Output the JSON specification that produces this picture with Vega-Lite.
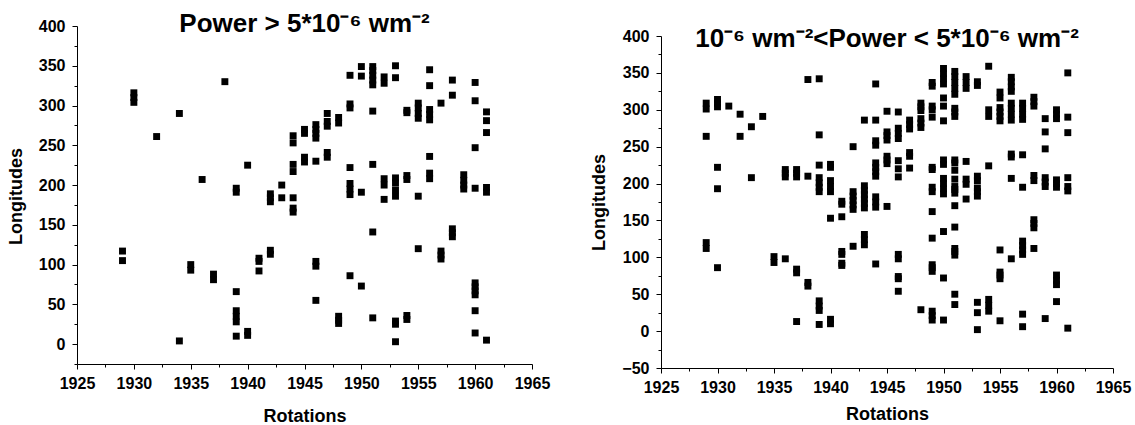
{
"$schema": "https://vega.github.io/schema/vega-lite/v6.json",
"padding": {"left": 7, "top": 11, "right": 5, "bottom": 5},
"bounds": "flush",
"spacing": 129,
"config": {
  "view": {"stroke": null},
  "font": "Liberation Sans",
  "axis": {"domainColor": "#000", "tickColor": "#000", "labelColor": "#000", "titleColor": "#000", "labelFont": "Liberation Sans", "labelFontWeight": "bold", "labelFontSize": 16, "titleFont": "Liberation Sans", "titleFontWeight": "bold", "titleFontSize": 18, "grid": false, "domainWidth": 1, "tickWidth": 1, "labelOverlap": false, "labelFlush": false},
  "title": {"font": "Liberation Sans", "fontWeight": "bold", "fontSize": 26, "color": "#000", "frame": "group", "baseline": "alphabetic", "anchor": "middle"}
},
"datasets": {
"a": [
{"r":1929,"lon":105},{"r":1929,"lon":117},
{"r":1930,"lon":304},{"r":1930,"lon":310},{"r":1930,"lon":316},
{"r":1932,"lon":261},
{"r":1934,"lon":290},{"r":1934,"lon":4},
{"r":1935,"lon":93},{"r":1935,"lon":100},
{"r":1936,"lon":207},
{"r":1937,"lon":81},{"r":1937,"lon":88},
{"r":1938,"lon":330},
{"r":1939,"lon":191},{"r":1939,"lon":196},{"r":1939,"lon":66},{"r":1939,"lon":28},{"r":1939,"lon":35},{"r":1939,"lon":42},{"r":1939,"lon":10},
{"r":1940,"lon":225},{"r":1940,"lon":11},{"r":1940,"lon":16},
{"r":1941,"lon":92},{"r":1941,"lon":104},{"r":1941,"lon":108},
{"r":1942,"lon":179},{"r":1942,"lon":184},{"r":1942,"lon":189},{"r":1942,"lon":113},{"r":1942,"lon":118},
{"r":1943,"lon":200},{"r":1943,"lon":184},
{"r":1944,"lon":253},{"r":1944,"lon":262},{"r":1944,"lon":217},{"r":1944,"lon":226},{"r":1944,"lon":184},{"r":1944,"lon":166},{"r":1944,"lon":171},
{"r":1945,"lon":265},{"r":1945,"lon":270},{"r":1945,"lon":229},{"r":1945,"lon":235},
{"r":1946,"lon":259},{"r":1946,"lon":265},{"r":1946,"lon":270},{"r":1946,"lon":276},{"r":1946,"lon":230},{"r":1946,"lon":98},{"r":1946,"lon":104},{"r":1946,"lon":55},
{"r":1947,"lon":290},{"r":1947,"lon":274},{"r":1947,"lon":280},{"r":1947,"lon":235},{"r":1947,"lon":241},
{"r":1948,"lon":278},{"r":1948,"lon":285},{"r":1948,"lon":26},{"r":1948,"lon":30},{"r":1948,"lon":35},
{"r":1949,"lon":338},{"r":1949,"lon":297},{"r":1949,"lon":302},{"r":1949,"lon":222},{"r":1949,"lon":188},{"r":1949,"lon":195},{"r":1949,"lon":202},{"r":1949,"lon":86},
{"r":1950,"lon":349},{"r":1950,"lon":337},{"r":1950,"lon":191},{"r":1950,"lon":73},
{"r":1951,"lon":326},{"r":1951,"lon":332},{"r":1951,"lon":338},{"r":1951,"lon":344},{"r":1951,"lon":349},{"r":1951,"lon":293},{"r":1951,"lon":226},{"r":1951,"lon":141},{"r":1951,"lon":33},
{"r":1952,"lon":328},{"r":1952,"lon":336},{"r":1952,"lon":200},{"r":1952,"lon":208},{"r":1952,"lon":182},
{"r":1953,"lon":350},{"r":1953,"lon":335},{"r":1953,"lon":186},{"r":1953,"lon":194},{"r":1953,"lon":203},{"r":1953,"lon":209},{"r":1953,"lon":25},{"r":1953,"lon":29},{"r":1953,"lon":3},
{"r":1954,"lon":291},{"r":1954,"lon":294},{"r":1954,"lon":207},{"r":1954,"lon":212},{"r":1954,"lon":31},{"r":1954,"lon":36},
{"r":1955,"lon":284},{"r":1955,"lon":290},{"r":1955,"lon":297},{"r":1955,"lon":303},{"r":1955,"lon":186},{"r":1955,"lon":120},
{"r":1956,"lon":345},{"r":1956,"lon":325},{"r":1956,"lon":282},{"r":1956,"lon":289},{"r":1956,"lon":295},{"r":1956,"lon":236},{"r":1956,"lon":208},{"r":1956,"lon":215},
{"r":1957,"lon":303},{"r":1957,"lon":107},{"r":1957,"lon":112},{"r":1957,"lon":117},
{"r":1958,"lon":332},{"r":1958,"lon":313},{"r":1958,"lon":135},{"r":1958,"lon":140},{"r":1958,"lon":145},
{"r":1959,"lon":195},{"r":1959,"lon":200},{"r":1959,"lon":206},{"r":1959,"lon":213},
{"r":1960,"lon":329},{"r":1960,"lon":306},{"r":1960,"lon":247},{"r":1960,"lon":196},{"r":1960,"lon":62},{"r":1960,"lon":67},{"r":1960,"lon":72},{"r":1960,"lon":77},{"r":1960,"lon":42},{"r":1960,"lon":14},
{"r":1961,"lon":292},{"r":1961,"lon":281},{"r":1961,"lon":266},{"r":1961,"lon":191},{"r":1961,"lon":197},{"r":1961,"lon":5}
],
"b": [
{"r":1929,"lon":301},{"r":1929,"lon":309},{"r":1929,"lon":264},{"r":1929,"lon":112},{"r":1929,"lon":120},
{"r":1930,"lon":304},{"r":1930,"lon":309},{"r":1930,"lon":314},{"r":1930,"lon":222},{"r":1930,"lon":193},{"r":1930,"lon":86},
{"r":1931,"lon":305},
{"r":1932,"lon":294},{"r":1932,"lon":264},
{"r":1933,"lon":277},{"r":1933,"lon":208},
{"r":1934,"lon":291},
{"r":1935,"lon":93},{"r":1935,"lon":101},
{"r":1936,"lon":209},{"r":1936,"lon":214},{"r":1936,"lon":219},{"r":1936,"lon":98},
{"r":1937,"lon":209},{"r":1937,"lon":214},{"r":1937,"lon":219},{"r":1937,"lon":79},{"r":1937,"lon":84},{"r":1937,"lon":13},
{"r":1938,"lon":341},{"r":1938,"lon":210},{"r":1938,"lon":61},{"r":1938,"lon":66},
{"r":1939,"lon":342},{"r":1939,"lon":266},{"r":1939,"lon":225},{"r":1939,"lon":189},{"r":1939,"lon":195},{"r":1939,"lon":201},{"r":1939,"lon":208},{"r":1939,"lon":28},{"r":1939,"lon":34},{"r":1939,"lon":41},{"r":1939,"lon":9},
{"r":1940,"lon":222},{"r":1940,"lon":226},{"r":1940,"lon":189},{"r":1940,"lon":196},{"r":1940,"lon":204},{"r":1940,"lon":153},{"r":1940,"lon":10},{"r":1940,"lon":16},
{"r":1941,"lon":172},{"r":1941,"lon":176},{"r":1941,"lon":155},{"r":1941,"lon":104},{"r":1941,"lon":108},{"r":1941,"lon":89},{"r":1941,"lon":92},
{"r":1942,"lon":250},{"r":1942,"lon":165},{"r":1942,"lon":171},{"r":1942,"lon":177},{"r":1942,"lon":183},{"r":1942,"lon":189},{"r":1942,"lon":115},
{"r":1943,"lon":286},{"r":1943,"lon":167},{"r":1943,"lon":173},{"r":1943,"lon":179},{"r":1943,"lon":185},{"r":1943,"lon":191},{"r":1943,"lon":197},{"r":1943,"lon":117},{"r":1943,"lon":124},{"r":1943,"lon":131},
{"r":1944,"lon":335},{"r":1944,"lon":286},{"r":1944,"lon":252},{"r":1944,"lon":258},{"r":1944,"lon":210},{"r":1944,"lon":216},{"r":1944,"lon":222},{"r":1944,"lon":228},{"r":1944,"lon":168},{"r":1944,"lon":175},{"r":1944,"lon":182},{"r":1944,"lon":91},
{"r":1945,"lon":298},{"r":1945,"lon":259},{"r":1945,"lon":265},{"r":1945,"lon":270},{"r":1945,"lon":227},{"r":1945,"lon":232},{"r":1945,"lon":237},{"r":1945,"lon":169},
{"r":1946,"lon":297},{"r":1946,"lon":261},{"r":1946,"lon":268},{"r":1946,"lon":275},{"r":1946,"lon":231},{"r":1946,"lon":220},{"r":1946,"lon":209},{"r":1946,"lon":98},{"r":1946,"lon":104},{"r":1946,"lon":71},{"r":1946,"lon":74},{"r":1946,"lon":54},
{"r":1947,"lon":274},{"r":1947,"lon":280},{"r":1947,"lon":286},{"r":1947,"lon":237},{"r":1947,"lon":242},{"r":1947,"lon":221},
{"r":1948,"lon":299},{"r":1948,"lon":304},{"r":1948,"lon":309},{"r":1948,"lon":276},{"r":1948,"lon":282},{"r":1948,"lon":288},{"r":1948,"lon":29},
{"r":1949,"lon":332},{"r":1949,"lon":337},{"r":1949,"lon":300},{"r":1949,"lon":305},{"r":1949,"lon":290},{"r":1949,"lon":219},{"r":1949,"lon":222},{"r":1949,"lon":189},{"r":1949,"lon":195},{"r":1949,"lon":162},{"r":1949,"lon":126},{"r":1949,"lon":81},{"r":1949,"lon":86},{"r":1949,"lon":90},{"r":1949,"lon":15},{"r":1949,"lon":21},{"r":1949,"lon":27},
{"r":1950,"lon":335},{"r":1950,"lon":342},{"r":1950,"lon":349},{"r":1950,"lon":356},{"r":1950,"lon":316},{"r":1950,"lon":305},{"r":1950,"lon":285},{"r":1950,"lon":226},{"r":1950,"lon":232},{"r":1950,"lon":186},{"r":1950,"lon":193},{"r":1950,"lon":200},{"r":1950,"lon":207},{"r":1950,"lon":135},{"r":1950,"lon":72},{"r":1950,"lon":15},
{"r":1951,"lon":321},{"r":1951,"lon":329},{"r":1951,"lon":337},{"r":1951,"lon":345},{"r":1951,"lon":352},{"r":1951,"lon":291},{"r":1951,"lon":297},{"r":1951,"lon":302},{"r":1951,"lon":228},{"r":1951,"lon":232},{"r":1951,"lon":218},{"r":1951,"lon":206},{"r":1951,"lon":187},{"r":1951,"lon":192},{"r":1951,"lon":196},{"r":1951,"lon":170},{"r":1951,"lon":141},{"r":1951,"lon":103},{"r":1951,"lon":108},{"r":1951,"lon":112},{"r":1951,"lon":50},{"r":1951,"lon":36},
{"r":1952,"lon":329},{"r":1952,"lon":337},{"r":1952,"lon":345},{"r":1952,"lon":230},{"r":1952,"lon":199},{"r":1952,"lon":206},{"r":1952,"lon":179},
{"r":1953,"lon":333},{"r":1953,"lon":338},{"r":1953,"lon":204},{"r":1953,"lon":210},{"r":1953,"lon":183},{"r":1953,"lon":189},{"r":1953,"lon":194},{"r":1953,"lon":39},{"r":1953,"lon":25},{"r":1953,"lon":2},
{"r":1954,"lon":359},{"r":1954,"lon":291},{"r":1954,"lon":300},{"r":1954,"lon":224},{"r":1954,"lon":27},{"r":1954,"lon":35},{"r":1954,"lon":43},
{"r":1955,"lon":316},{"r":1955,"lon":324},{"r":1955,"lon":285},{"r":1955,"lon":291},{"r":1955,"lon":297},{"r":1955,"lon":303},{"r":1955,"lon":110},{"r":1955,"lon":71},{"r":1955,"lon":76},{"r":1955,"lon":80},{"r":1955,"lon":14},
{"r":1956,"lon":325},{"r":1956,"lon":331},{"r":1956,"lon":338},{"r":1956,"lon":344},{"r":1956,"lon":286},{"r":1956,"lon":294},{"r":1956,"lon":302},{"r":1956,"lon":309},{"r":1956,"lon":236},{"r":1956,"lon":240},{"r":1956,"lon":207},{"r":1956,"lon":98},
{"r":1957,"lon":287},{"r":1957,"lon":294},{"r":1957,"lon":302},{"r":1957,"lon":309},{"r":1957,"lon":239},{"r":1957,"lon":195},{"r":1957,"lon":104},{"r":1957,"lon":110},{"r":1957,"lon":116},{"r":1957,"lon":122},{"r":1957,"lon":23},{"r":1957,"lon":6},
{"r":1958,"lon":305},{"r":1958,"lon":311},{"r":1958,"lon":317},{"r":1958,"lon":204},{"r":1958,"lon":211},{"r":1958,"lon":140},{"r":1958,"lon":146},{"r":1958,"lon":151},{"r":1958,"lon":112},
{"r":1959,"lon":288},{"r":1959,"lon":270},{"r":1959,"lon":247},{"r":1959,"lon":196},{"r":1959,"lon":202},{"r":1959,"lon":208},{"r":1959,"lon":17},
{"r":1960,"lon":288},{"r":1960,"lon":294},{"r":1960,"lon":300},{"r":1960,"lon":195},{"r":1960,"lon":200},{"r":1960,"lon":205},{"r":1960,"lon":63},{"r":1960,"lon":69},{"r":1960,"lon":76},{"r":1960,"lon":40},
{"r":1961,"lon":350},{"r":1961,"lon":290},{"r":1961,"lon":269},{"r":1961,"lon":208},{"r":1961,"lon":190},{"r":1961,"lon":196},{"r":1961,"lon":4}
]
},
"hconcat": [
{
  "width": 455, "height": 338,
  "title": {"text": "Power > 5*10⁻⁶ wm⁻²", "offset": -19},
  "data": {"name": "a"},
  "mark": {"type": "point", "shape": "square", "filled": true, "size": 48, "color": "#000", "opacity": 1},
  "encoding": {
    "x": {"field": "r", "type": "quantitative",
      "scale": {"domain": [1925, 1965], "nice": false, "zero": false},
      "axis": {"title": "Rotations", "values": [1925,1927.5,1930,1932.5,1935,1937.5,1940,1942.5,1945,1947.5,1950,1952.5,1955,1957.5,1960,1962.5,1965], "format": "d",
        "labelExpr": "datum.value % 5 === 0 ? datum.label : ''",
        "tickSize": {"condition": {"test": "datum.value % 5 === 0", "value": 5}, "value": 3},
        "labelPadding": 6, "titlePadding": 16}},
    "y": {"field": "lon", "type": "quantitative",
      "scale": {"domain": [-25, 400], "nice": false, "zero": false},
      "axis": {"title": "Longitudes", "values": [-25,0,25,50,75,100,125,150,175,200,225,250,275,300,325,350,375,400],
        "labelExpr": "datum.value % 50 === 0 ? datum.label : ''",
        "tickSize": {"condition": {"test": "datum.value % 50 === 0", "value": 5}, "value": 3},
        "labelPadding": 7, "titlePadding": 13, "titleY": 170}}
  }
},
{
  "width": 452, "height": 342,
  "title": {"text": "10⁻⁶ wm⁻²<Power < 5*10⁻⁶ wm⁻²", "offset": -26},
  "data": {"name": "b"},
  "mark": {"type": "point", "shape": "square", "filled": true, "size": 48, "color": "#000", "opacity": 1},
  "encoding": {
    "x": {"field": "r", "type": "quantitative",
      "scale": {"domain": [1925, 1965], "nice": false, "zero": false},
      "axis": {"title": "Rotations", "values": [1925,1927.5,1930,1932.5,1935,1937.5,1940,1942.5,1945,1947.5,1950,1952.5,1955,1957.5,1960,1962.5,1965], "format": "d",
        "labelExpr": "datum.value % 5 === 0 ? datum.label : ''",
        "tickSize": {"condition": {"test": "datum.value % 5 === 0", "value": 5}, "value": 3},
        "labelPadding": 6, "titlePadding": 10}},
    "y": {"field": "lon", "type": "quantitative",
      "scale": {"domain": [-50, 400], "nice": false, "zero": false, "range": [342, 10]},
      "axis": {"title": "Longitudes", "values": [-50,-25,0,25,50,75,100,125,150,175,200,225,250,275,300,325,350,375,400],
        "labelExpr": "datum.value % 50 === 0 ? datum.label : ''",
        "tickSize": {"condition": {"test": "datum.value % 50 === 0", "value": 5}, "value": 3},
        "labelPadding": 7, "titlePadding": 13, "titleY": 176}}
  }
}
]
}
